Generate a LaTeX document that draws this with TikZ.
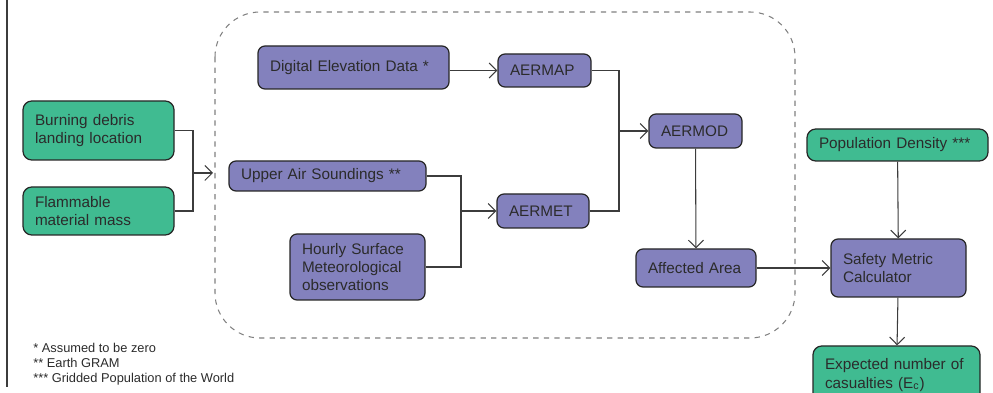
\documentclass[tikz,border=0pt]{standalone}
\usepackage{fontspec}
\setmainfont{Liberation Sans}
\usepackage{tikz}
\usetikzlibrary{arrows.meta, positioning, calc}
\definecolor{cPurple}{RGB}{131,129,189}
\definecolor{cGreen}{RGB}{64,187,145}
\definecolor{cText}{RGB}{43,43,43}
\definecolor{cLine}{RGB}{60,60,60}
\tikzset{
	inbox/.style   ={rectangle, rounded corners=5pt, draw=black!85, line width=0.7pt, fill=cGreen, align=left, inner xsep=0.24cm, text=cText},
	modbox/.style  ={rectangle, rounded corners=4pt, draw=black!85, line width=0.7pt, fill=cPurple, align=left, inner xsep=0.24cm, text=cText},
	flowarrow/.style={-{Straight Barb[length=1.5mm, width=3mm]}, line width=0.6pt, draw=cLine},
	flowline/.style ={line width=0.6pt, draw=cLine},
}

\begin{document}
\begin{tikzpicture}[every node/.style={font=\fontsize{8.7}{10.4}\selectfont}]
	\useasboundingbox (0,0) rectangle (19.86,-7.86);
	\draw[line width=0.6pt, cLine] (0.14,0) -- (0.14,-7.74);
	% region of the dispersion models
	\draw[gray, dashed, line width=0.6pt, rounded corners=0.9cm] (4.30,-0.24) rectangle (15.90,-6.76);
	% inputs
	\node[inbox, text width=2.54cm, minimum height=1.18cm] (burn) at (1.97,-2.61) {Burning debris\\ landing location};
	\node[inbox, text width=2.54cm, minimum height=0.96cm] (flam) at (1.97,-4.22) {Flammable\\ material mass};
	\node[modbox, text width=3.34cm, minimum height=0.86cm] (ded) at (7.07,-1.35) {Digital Elevation Data *};
	\node[modbox, text width=1.38cm, minimum height=0.66cm] (aermap) at (10.89,-1.41) {AERMAP};
	\node[modbox, text width=3.46cm, minimum height=0.60cm] (uas) at (6.55,-3.52) {Upper Air Soundings **};
	\node[modbox, text width=1.36cm, minimum height=0.68cm] (aermet) at (10.86,-4.22) {AERMET};
	\node[modbox, text width=2.22cm, minimum height=1.32cm] (hourly) at (7.15,-5.34) {Hourly Surface\\ Meteorological\\ observations};
	\node[modbox, text width=1.38cm, minimum height=0.68cm] (aermod) at (13.91,-2.62) {AERMOD};
	\node[modbox, text width=1.92cm, minimum height=0.76cm] (area) at (13.92,-5.36) {Affected Area};
	\node[inbox, text width=3.14cm, minimum height=0.64cm] (popd) at (17.95,-2.90) {Population Density ***};
	\node[modbox, text width=2.22cm, minimum height=1.16cm] (calc) at (17.97,-5.36) {Safety Metric\\ Calculator};
	\node[inbox, text width=2.86cm, minimum height=1.16cm] (ec) at (17.93,-7.50) {Expected number of\\ casualties (E\textsubscript{c})};
	% footnotes
	\node[anchor=north west, inner sep=0pt, align=left, text=cText, font=\fontsize{7.3}{8.6}\selectfont] (notes) at (0.66,-6.85)
		{* Assumed to be zero\\ ** Earth GRAM\\ *** Gridded Population of the World};
	% connectors
	\coordinate (jin) at (3.86,-3.46);
	\coordinate (region) at (4.26,-3.46);
	\draw[flowline] (burn.east) -| (jin); \draw[flowline] (flam.east) -| (jin);
	\draw[flowarrow] (jin) -- (region);
	\draw[flowarrow] (ded.east |- aermap) -- (aermap);
	\coordinate (jmet) at (9.22,-4.22);
	\draw[flowline] (uas.east) -| (jmet); \draw[flowline] (hourly.east) -| (jmet);
	\draw[flowarrow] (jmet) -- (aermet);
	\coordinate (jmod) at (12.38,-2.62);
	\draw[flowline] (aermap.east) -| (jmod); \draw[flowline] (aermet.east) -| (jmod);
	\draw[flowarrow] (jmod) -- (aermod);
	\draw[flowarrow] (aermod) -- (area);
	\draw[flowarrow] (area) -- (calc);
	\draw[flowarrow] (popd) -- (calc);
	\draw[flowarrow] (calc) -- (ec);
\end{tikzpicture}
\end{document}
